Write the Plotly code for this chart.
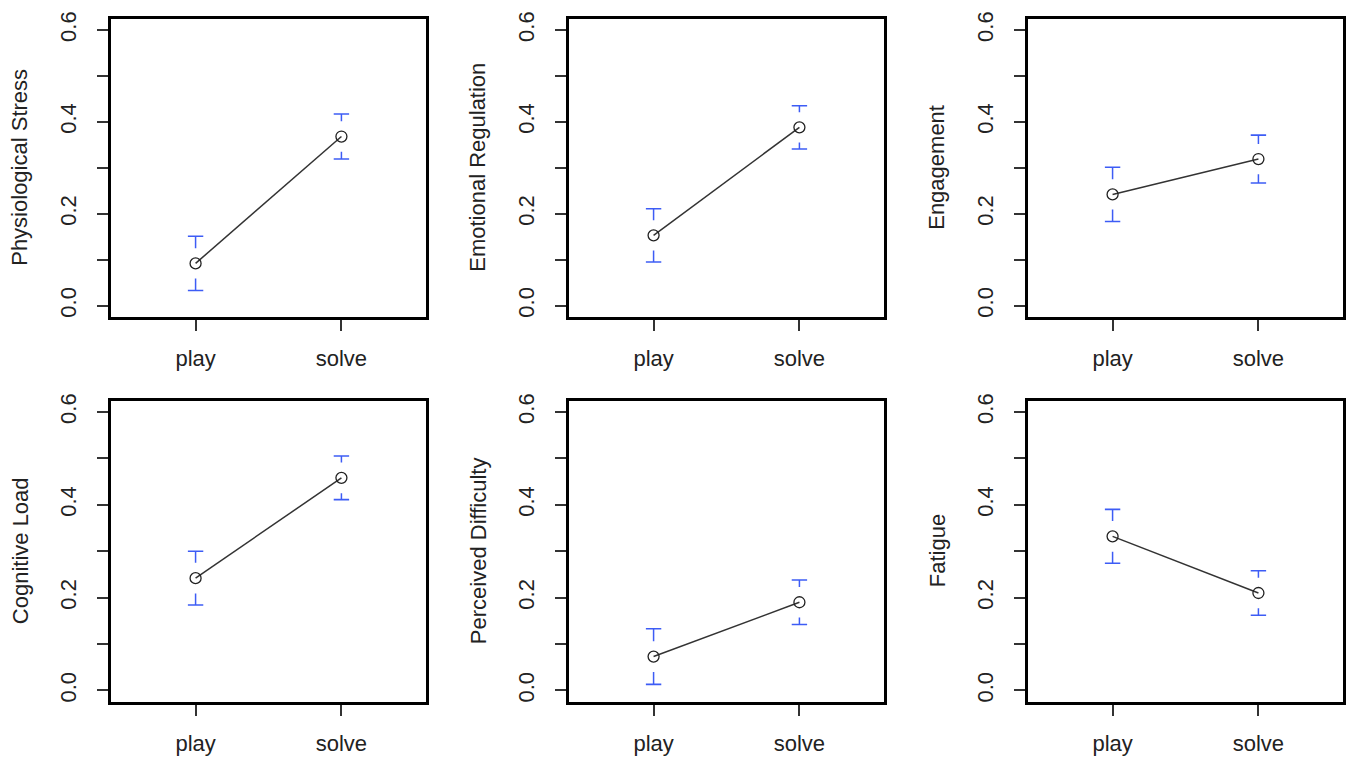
import plotly.graph_objects as go

# ---------------- data ----------------
conditions = ["play", "solve"]
cond_pos = [1, 2]
measures = ["Physiological Stress", "Emotional Regulation", "Engagement",
            "Cognitive Load", "Perceived Difficulty", "Fatigue"]
means_play = [0.092, 0.153, 0.242, 0.242, 0.073, 0.332]
means_solve = [0.368, 0.388, 0.319, 0.458, 0.190, 0.210]
err_play = [0.059, 0.058, 0.059, 0.058, 0.060, 0.058]
err_solve = [0.049, 0.047, 0.052, 0.047, 0.048, 0.048]
y_tickvals = [0.0, 0.1, 0.2, 0.3, 0.4, 0.5, 0.6]
y_ticktext = ["0.0", "", "0.2", "", "0.4", "", "0.6"]

# ---------------- style ----------------
W, H = 1346, 759
FONT = "Liberation Sans, Arial, Helvetica, sans-serif"
TXT = "#222222"
BLUE = "#3d5cf5"
FS = 22
GAP = 0.033          # gap around the point (plotCI style), in data units
col_x = [(111, 426), (569, 884), (1028, 1343)]   # box pixel extents
row_y = [(12, 313), (398, 702)]

fig = go.Figure()
layout = {}
annotations = []

for i, name in enumerate(measures):
    r, c = divmod(i, 3)
    k = "" if i == 0 else str(i + 1)
    xa, ya = "x" + k, "y" + k
    means = [means_play[i], means_solve[i]]
    errs = [err_play[i], err_solve[i]]

    # error bar stems, leaving a gap around each point
    sx, sy = [], []
    for xp, m, e in zip(cond_pos, means, errs):
        sx += [xp, xp, None, xp, xp, None]
        sy += [m + e, m + GAP, None, m - GAP, m - e, None]
    fig.add_trace(go.Scatter(x=sx, y=sy, mode="lines", xaxis=xa, yaxis=ya,
                             line=dict(color=BLUE, width=1.5), showlegend=False,
                             hoverinfo="skip"))
    # error bar caps
    fig.add_trace(go.Scatter(x=cond_pos + cond_pos,
                             y=[m + e for m, e in zip(means, errs)] + [m - e for m, e in zip(means, errs)],
                             mode="markers", xaxis=xa, yaxis=ya,
                             marker=dict(symbol="line-ew", size=11,
                                         line=dict(color=BLUE, width=1.6)),
                             showlegend=False, hoverinfo="skip"))
    # means
    fig.add_trace(go.Scatter(x=cond_pos, y=means, mode="lines+markers",
                             xaxis=xa, yaxis=ya, name=name,
                             line=dict(color="#333333", width=1.5),
                             marker=dict(symbol="circle-open", size=11,
                                         color="#222222", line=dict(width=1.3)),
                             showlegend=False))

    x0, x1 = col_x[c]
    y0, y1 = row_y[r]
    layout["xaxis" + k] = dict(
        domain=[x0 / W, x1 / W], anchor=ya, range=[0.42, 2.58],
        tickvals=cond_pos, ticktext=conditions, ticks="outside", ticklen=11,
        tickwidth=1.5, tickcolor="#333333", showline=True, mirror=True,
        linecolor="black", linewidth=3, showgrid=False, zeroline=False,
        ticklabelstandoff=9, tickfont=dict(family=FONT, size=FS, color=TXT))
    layout["yaxis" + k] = dict(
        domain=[1 - y1 / H, 1 - y0 / H], anchor=xa, range=[-0.024, 0.624],
        tickvals=y_tickvals, ticktext=y_ticktext, ticks="outside", ticklen=11,
        tickwidth=1.5, tickcolor="#333333", showline=True, mirror=True,
        linecolor="black", linewidth=3, showgrid=False, zeroline=False,
        tickangle=-90, ticklabelstandoff=12,
        tickfont=dict(family=FONT, size=FS, color=TXT))
    annotations.append(dict(
        text=name, textangle=-90, xref="paper", yref="paper",
        x=(x0 - 91) / W, y=1 - (y0 + y1) / 2 / H, xanchor="center", yanchor="middle",
        showarrow=False, font=dict(family=FONT, size=FS, color=TXT)))

fig.update_layout(**layout)
fig.update_layout(width=W, height=H, margin=dict(l=0, r=0, t=0, b=0),
                  paper_bgcolor="white", plot_bgcolor="white",
                  annotations=annotations, showlegend=False)
fig.write_html("out.html", config={"displayModeBar": False},
               post_script="document.body.style.margin='0';document.body.style.overflow='hidden';")
